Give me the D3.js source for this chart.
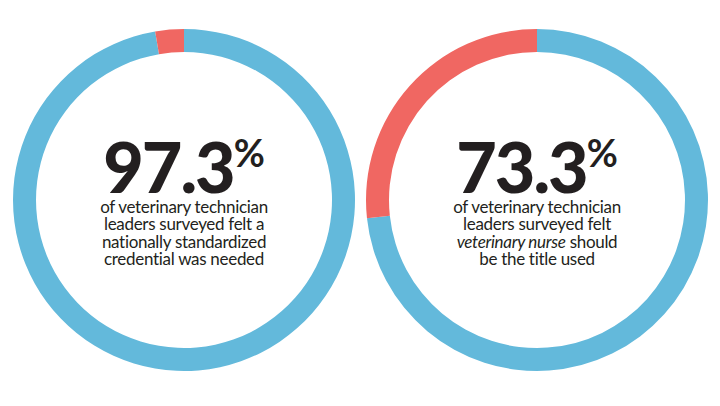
<!DOCTYPE html>
<html><head><meta charset="utf-8">
<script src="https://cdn.jsdelivr.net/npm/d3@7"></script>
<style>
html,body{margin:0;padding:0;background:#fff;}
svg{display:block;}
</style></head>
<body>
<svg id="chart" width="720" height="406"></svg>
<script>
const percents = [97.3, 73.3];
const numberLabels = ["97.3", "73.3"];
const captionLines = [
  [[{t:"of veterinary technician"}], [{t:"leaders surveyed felt a"}], [{t:"nationally standardized"}], [{t:"credential was needed"}]],
  [[{t:"of veterinary technician"}], [{t:"leaders surveyed felt"}], [{t:"veterinary nurse", i:true},{t:" should"}], [{t:"be the title used"}]]
];
const colors = ["#63b9db", "#f06762"];

const svg = d3.select("#chart");
const cx = d3.scalePoint().domain([0,1]).range([184, 537]);
const cy = 200, rOuter = 171, rInner = 148;

const pie = d3.pie().sort(null).startAngle(0).endAngle(2*Math.PI);
const arc = d3.arc().innerRadius(rInner).outerRadius(rOuter);

percents.forEach((p, k) => {
  const g = svg.append("g").attr("transform", `translate(${cx(k)},${cy})`);
  g.selectAll("path").data(pie([p, 100 - p])).join("path")
    .attr("d", arc).attr("fill", (d,i) => colors[i]);

  const num = g.append("text").attr("text-anchor","middle")
    .attr("y", -7).attr("fill","#231f20")
    .style("font-family","Lato, 'Open Sans', sans-serif");
  num.append("tspan").text(numberLabels[k])
    .style("font-size","70px").style("font-weight","900").attr("letter-spacing","-2");
  num.append("tspan").text("%").attr("dy", -26)
    .style("font-size","38px").style("font-weight","700");

  const cap = g.append("text").attr("text-anchor","middle").attr("fill","#231f20")
    .style("font-family","Lato, 'Open Sans', sans-serif").style("font-size","17px")
    .attr("letter-spacing","-0.3");
  captionLines[k].forEach((line, li) => {
    line.forEach((seg, si) => {
      const ts = cap.append("tspan").text(seg.t);
      if (si === 0) ts.attr("x", 0).attr("y", 13 + li * 17.3);
      if (seg.i) ts.style("font-style","italic");
    });
  });
});
</script>
</body></html>
